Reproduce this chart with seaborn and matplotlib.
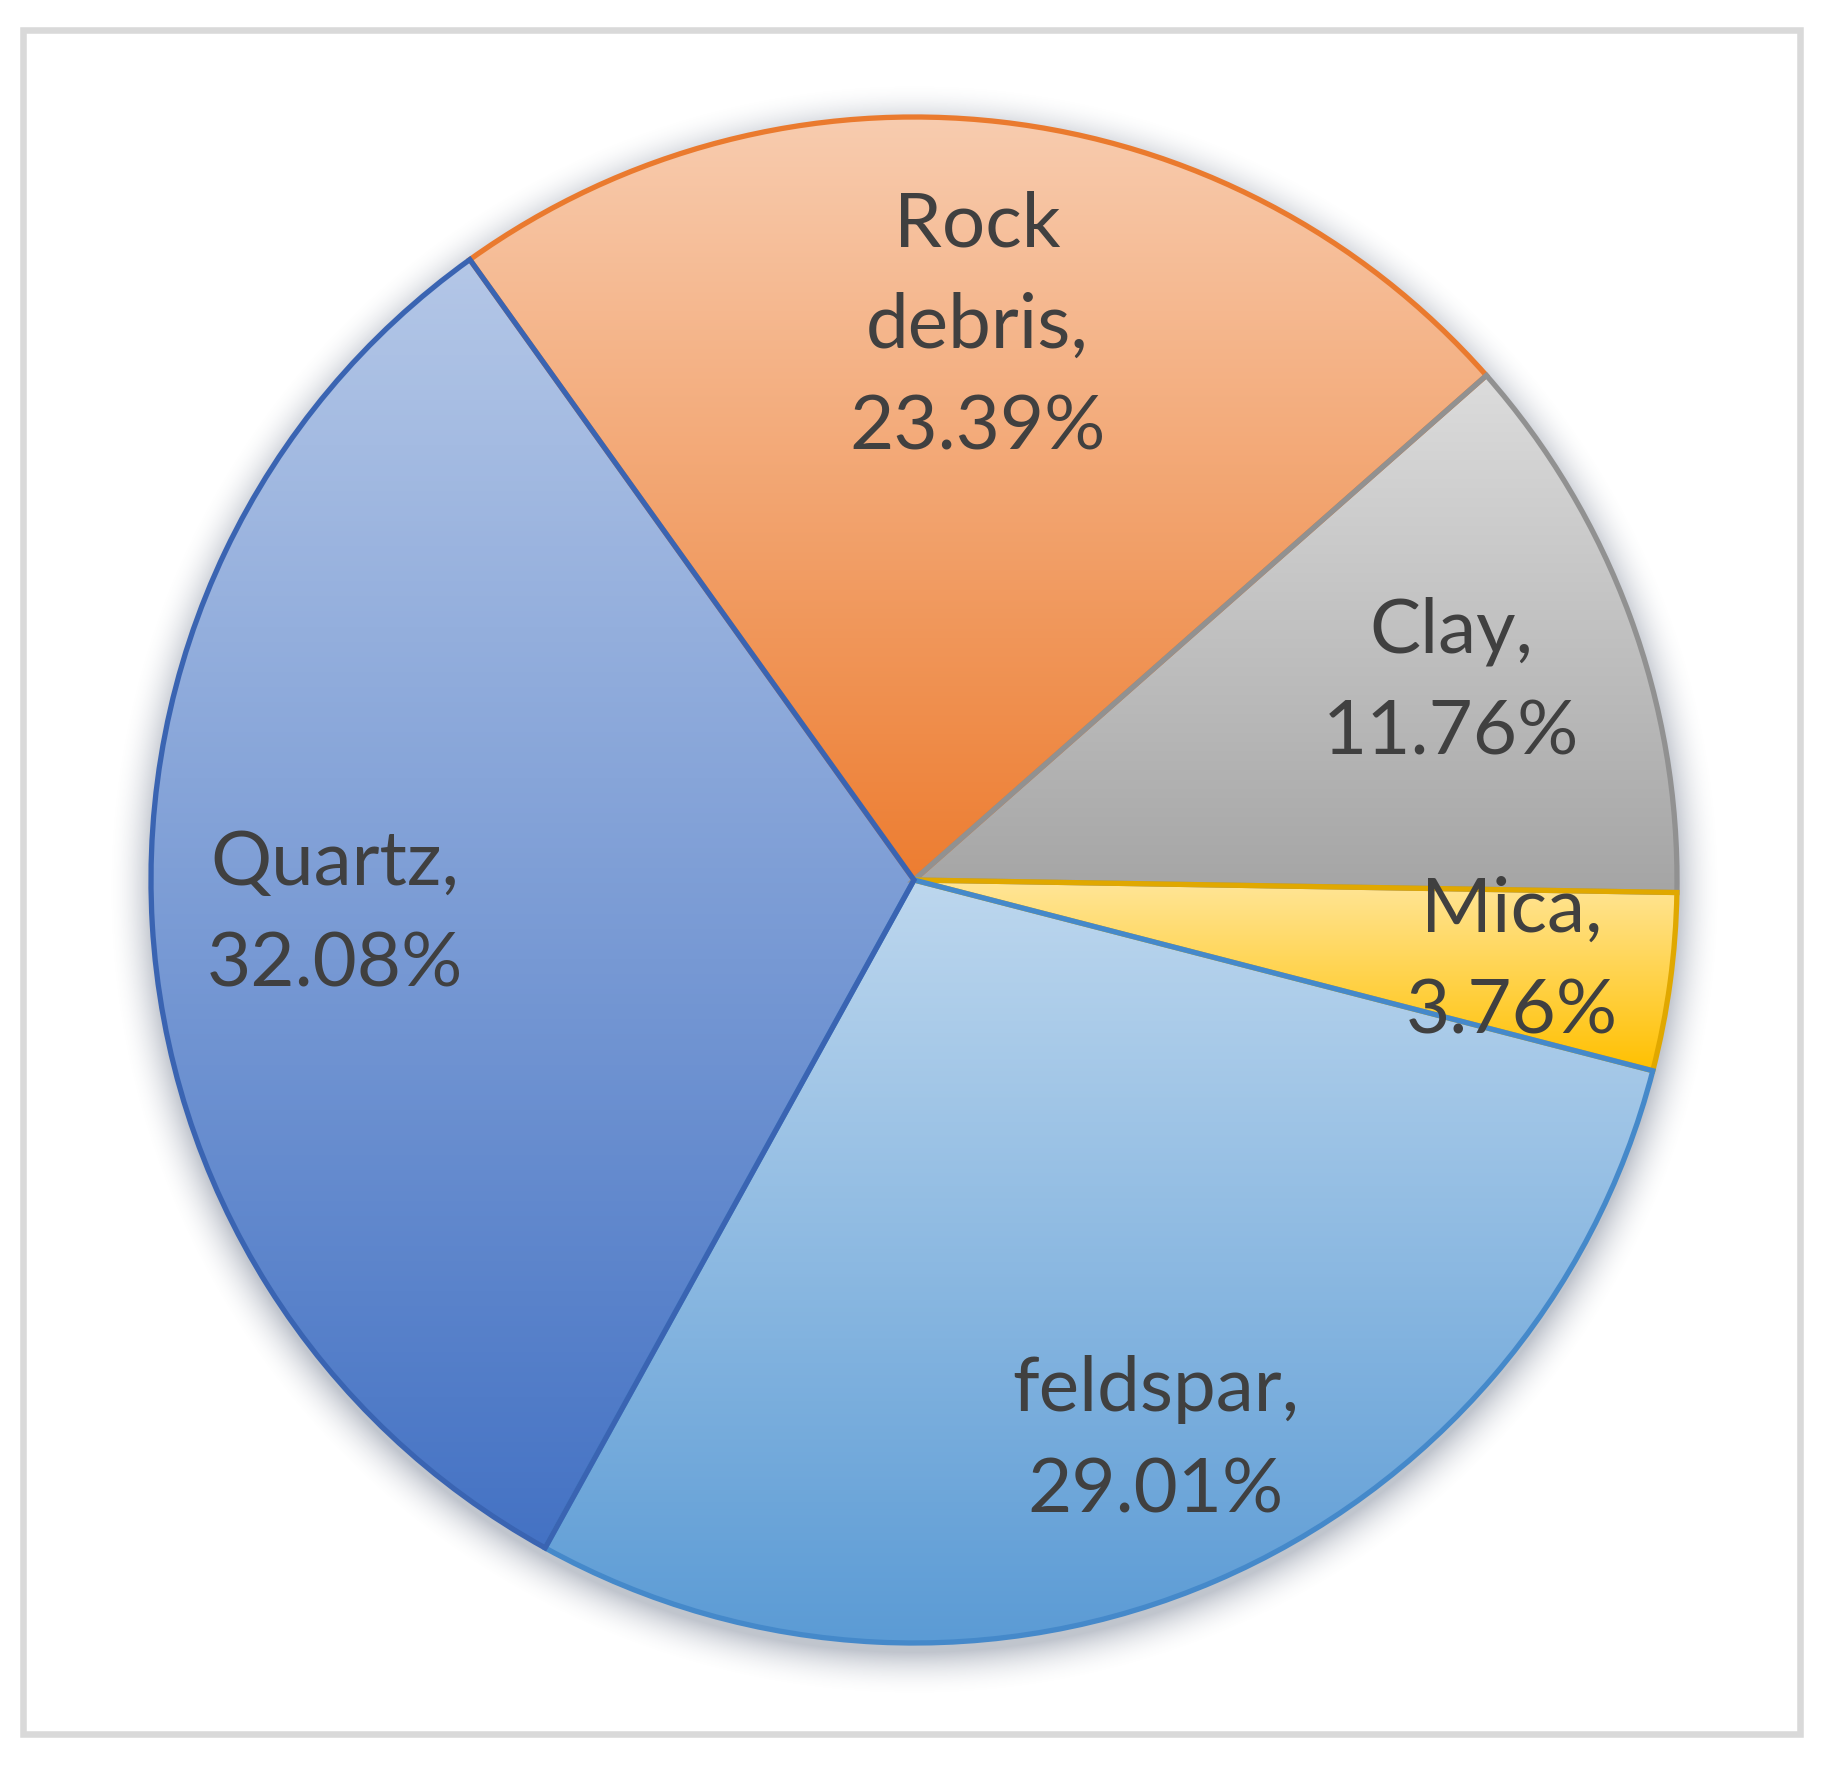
import numpy as np
import matplotlib
matplotlib.use("Agg")
import matplotlib.pyplot as plt
from matplotlib.patches import Rectangle
import seaborn as sns

# composition of the sandstone samples (percent)
minerals = ["Rock debris", "Clay", "Mica", "feldspar", "Quartz"]
shares = [23.39, 11.76, 3.76, 29.01, 32.08]

# colours: base (bottom of gradient), light (top of gradient), outline
base_cols = ["#ED7D31", "#A5A5A5", "#FFC000", "#5B9BD5", "#4472C4"]
light_cols = ["#F8CCAF", "#DCDCDC", "#FFE699", "#BDD7EE", "#B4C7E7"]
edge_cols = ["#EA7A2E", "#919191", "#E0A800", "#4589CA", "#3A64B2"]
label_dist = [0.73, 0.75, 0.79, 0.80, 0.76]

sns.set_theme(style="white")
plt.rcParams["font.family"] = ["Lato", "DejaVu Sans"]

W, H = 1826, 1771
cx, cy, R = 914, H - 880, 763

fig = plt.figure(figsize=(W / 100, H / 100), dpi=100)
ax = fig.add_axes([0, 0, 1, 1])

# soft shadow behind the pie
yy, xx = np.mgrid[0:H, 0:W]
d = np.hypot(xx - cx, yy - (cy - 10)) - R
alpha = np.clip(1 - d / 45, 0, 1) ** 2 * 0.35
shadow = np.zeros((H, W, 4))
shadow[..., 0] = 0.30
shadow[..., 1] = 0.35
shadow[..., 2] = 0.45
shadow[..., 3] = alpha
ax.imshow(shadow, extent=(0, W, 0, H), origin="lower", zorder=0, aspect="auto")

wedges, _ = ax.pie(shares, startangle=125.6, counterclock=False,
                   center=(cx, cy), radius=R,
                   wedgeprops=dict(linewidth=3.8, zorder=3))

grad = np.linspace(0, 1, 256).reshape(-1, 1)
for w, base, light, edge in zip(wedges, base_cols, light_cols, edge_cols):
    w.set_facecolor("none")
    w.set_edgecolor(edge)
    w.set_zorder(3)
    ext = w.get_path().get_extents()
    cmap = sns.blend_palette([base, light], n_colors=256, as_cmap=True)
    im = ax.imshow(grad, cmap=cmap, extent=(ext.x0, ext.x1, ext.y0, ext.y1),
                   origin="lower", aspect="auto", zorder=2)
    im.set_clip_path(w)

for w, name, val, dist in zip(wedges, minerals, shares, label_dist):
    mid = np.deg2rad((w.theta1 + w.theta2) / 2)
    x = cx + dist * R * np.cos(mid)
    y = cy + dist * R * np.sin(mid)
    ax.text(x, y, f"{name.replace(' ', chr(10))},\n{val:.2f}%",
            ha="center", va="center", ma="center", fontsize=55,
            color="#404040", linespacing=1.58, zorder=5)

# chart area border
ax.add_patch(Rectangle((23, H - 1733.5), 1799.5 - 23, 1733.5 - 29.5,
                       fill=False, edgecolor="#D9D9D9", linewidth=4.7, zorder=6))

ax.set_xlim(0, W)
ax.set_ylim(0, H)
ax.axis("off")
fig.savefig("out.png", dpi=100, facecolor="white")
